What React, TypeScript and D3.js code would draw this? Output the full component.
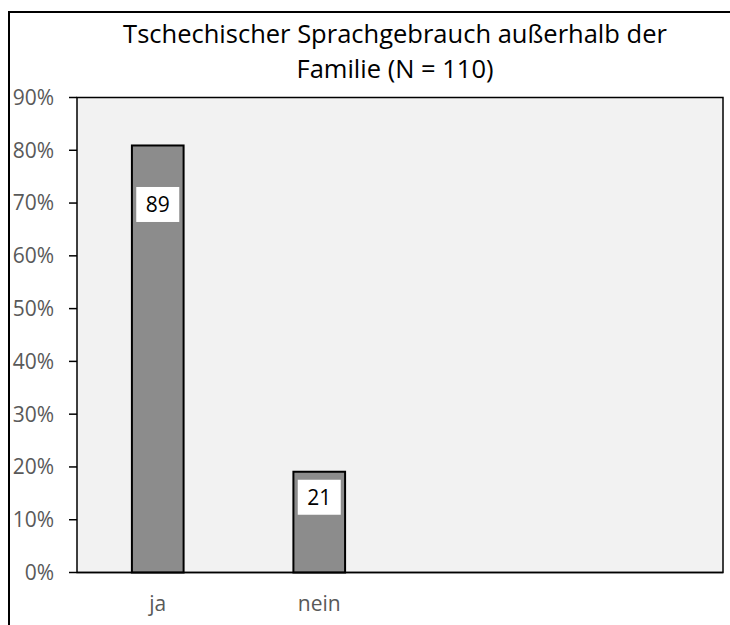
import React from "react";
import * as d3 from "d3";

const categories = ["ja", "nein", "", ""];
const counts = [89, 21];
const total = 110;
const yTicks = [0, 0.1, 0.2, 0.3, 0.4, 0.5, 0.6, 0.7, 0.8, 0.9];
const titleLines = ["Tschechischer Sprachgebrauch außerhalb der", "Familie (N = 110)"];

const W = 730;
const H = 625;
const M = { left: 77, right: 723, top: 97.5, bottom: 572.5 };
const FONT = "'Open Sans', 'Noto Sans', sans-serif";

export default function App() {
  const x = d3.scaleBand<string>()
    .domain(categories.map((c, i) => String(i)))
    .range([M.left, M.right])
    .paddingInner(0)
    .paddingOuter(0);
  const y = d3.scaleLinear().domain([0, 0.9]).range([M.bottom, M.top]);
  const bw = x.bandwidth() * 0.32;
  const labelDy = [59, 25.5];

  return (
    <svg width={W} height={H} style={{ position: "absolute", left: 0, top: 0, display: "block" }}>
      <rect x={0} y={0} width={W} height={H} fill="#ffffff" />
      <rect x={9} y={12} width={W + 20} height={H + 20} fill="none" stroke="#000" strokeWidth={2} />
      {titleLines.map((t, i) => (
        <text key={i} x={395} y={43 + i * 35} textAnchor="middle" fontFamily={FONT} fontSize={25.5} fill="#000">{t}</text>
      ))}
      <rect x={M.left} y={M.top} width={M.right - M.left} height={M.bottom - M.top} fill="#f2f2f2" stroke="#000" strokeWidth={1.5} />
      {yTicks.map((t) => (
        <g key={t}>
          <line x1={M.left - 8} x2={M.left} y1={y(t)} y2={y(t)} stroke="#000" strokeWidth={1.5} />
          <text x={54} y={y(t)} dy="0.35em" textAnchor="end" fontFamily={FONT} fontSize={21} fill="#595959">{d3.format(".0%")(t)}</text>
        </g>
      ))}
      {categories.map((c, i) => (
        <text key={i} x={(x(String(i)) as number) + x.bandwidth() / 2} y={611} textAnchor="middle" fontFamily={FONT} fontSize={21} fill="#595959">{c}</text>
      ))}
      {counts.map((v, i) => {
        const cx = (x(String(i)) as number) + x.bandwidth() / 2;
        const top = y(v / total);
        return (
          <g key={i}>
            <rect x={cx - bw / 2} y={top} width={bw} height={M.bottom - top} fill="#8c8c8c" stroke="#000" strokeWidth={2} />
            <rect x={cx - 21.5} y={top + labelDy[i] - 17.5} width={43} height={35} fill="#ffffff" />
            <text x={cx} y={top + labelDy[i]} dy="0.35em" textAnchor="middle" fontFamily={FONT} fontSize={21} fill="#000">{v}</text>
          </g>
        );
      })}
      <line x1={M.left} x2={M.right} y1={M.bottom} y2={M.bottom} stroke="#000" strokeWidth={1.5} />
    </svg>
  );
}
